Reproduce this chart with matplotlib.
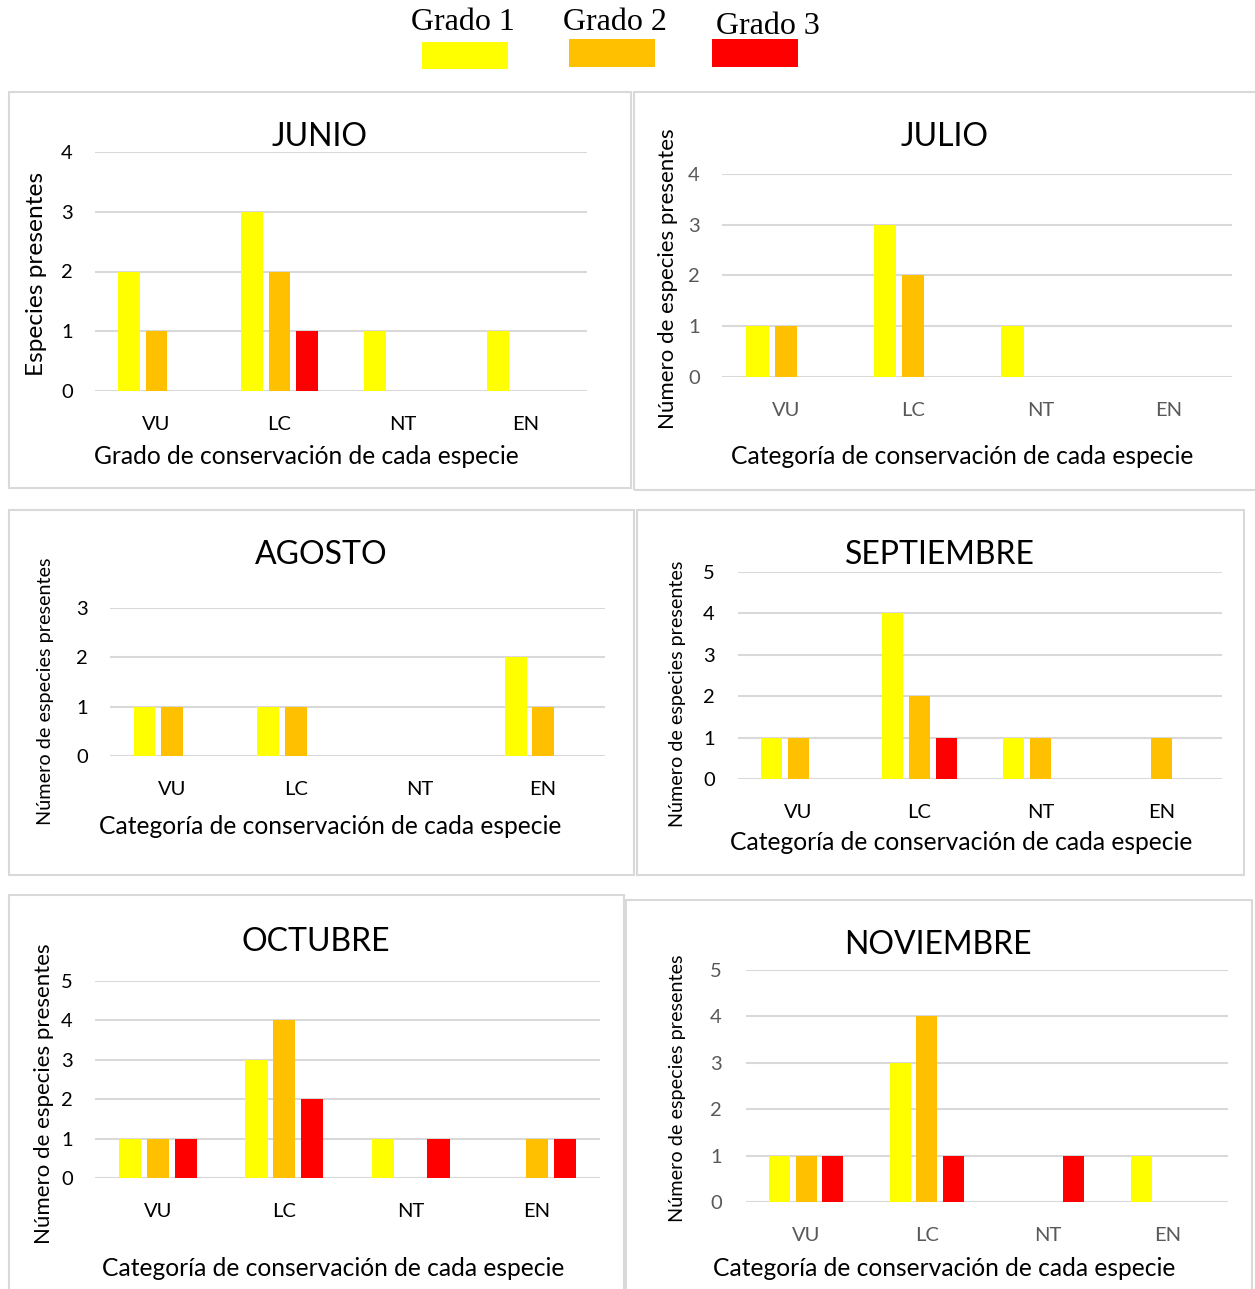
import numpy as np
import matplotlib
matplotlib.use("Agg")
import matplotlib.pyplot as plt
from matplotlib.patches import Rectangle

# conservation categories and colours for each grade
categorias = ["VU", "LC", "NT", "EN"]
grados = ["Grado 1", "Grado 2", "Grado 3"]
colores = ["#FFFF00", "#FFC000", "#FF0000"]

# species counts per month, one list per grade
junio_g1 = [2, 3, 1, 1]
junio_g2 = [1, 2, 0, 0]
junio_g3 = [0, 1, 0, 0]

julio_g1 = [1, 3, 1, 0]
julio_g2 = [1, 2, 0, 0]
julio_g3 = [0, 0, 0, 0]

agosto_g1 = [1, 1, 0, 2]
agosto_g2 = [1, 1, 0, 1]
agosto_g3 = [0, 0, 0, 0]

septiembre_g1 = [1, 4, 1, 0]
septiembre_g2 = [1, 2, 1, 1]
septiembre_g3 = [0, 1, 0, 0]

octubre_g1 = [1, 3, 1, 0]
octubre_g2 = [1, 4, 0, 1]
octubre_g3 = [1, 2, 1, 1]

noviembre_g1 = [1, 3, 0, 1]
noviembre_g2 = [1, 4, 0, 0]
noviembre_g3 = [1, 1, 1, 0]

W, H = 1255, 1289
DPI = 100
FONT = "Lato"

fig = plt.figure(figsize=(W / DPI, H / DPI), dpi=DPI)


def fx(x):
    return x / W


def fy(y):
    return 1 - y / H


def pt(px):
    return px * 72 / DPI


# each panel: title, data, ymax, frame box, plot area, text positions and styles
paneles = [
    dict(titulo="JUNIO", datos=(junio_g1, junio_g2, junio_g3), ymax=4,
         caja=(9, 92, 631, 488), area=(95, 152, 587, 391),
         tit=(320, 137), xl=(306, 457), yl=(37, 274),
         xlabel="Grado de conservación de cada especie", ylabel="Especies presentes",
         ylsize=17.6, tickcol="#000000", tpad=22),
    dict(titulo="JULIO", datos=(julio_g1, julio_g2, julio_g3), ymax=4,
         caja=(634, 92, 1262, 490), area=(722, 174, 1232, 377),
         tit=(945, 137), xl=(962, 457), yl=(668, 279),
         xlabel="Categoría de conservación de cada especie",
         ylabel="Número de especies presentes",
         ylsize=16, tickcol="#595959", tpad=22),
    dict(titulo="AGOSTO", datos=(agosto_g1, agosto_g2, agosto_g3), ymax=3,
         caja=(9, 510, 634, 875), area=(110, 608, 605, 756),
         tit=(321, 555), xl=(330, 827), yl=(45, 691),
         xlabel="Categoría de conservación de cada especie",
         ylabel="Número de especies presentes",
         ylsize=14.3, tickcol="#000000", tpad=22),
    dict(titulo="SEPTIEMBRE", datos=(septiembre_g1, septiembre_g2, septiembre_g3), ymax=5,
         caja=(637, 510, 1244, 875), area=(738, 572, 1222, 779),
         tit=(940, 555), xl=(961, 842), yl=(678, 694),
         xlabel="Categoría de conservación de cada especie",
         ylabel="Número de especies presentes",
         ylsize=14.2, tickcol="#000000", tpad=23),
    dict(titulo="OCTUBRE", datos=(octubre_g1, octubre_g2, octubre_g3), ymax=5,
         caja=(9, 895, 624, 1295), area=(95, 981, 600, 1178),
         tit=(316, 942), xl=(333, 1268), yl=(44, 1094),
         xlabel="Categoría de conservación de cada especie",
         ylabel="Número de especies presentes",
         ylsize=16, tickcol="#000000", tpad=22),
    dict(titulo="NOVIEMBRE", datos=(noviembre_g1, noviembre_g2, noviembre_g3), ymax=5,
         caja=(626, 900, 1252, 1295), area=(746, 970, 1228, 1202),
         tit=(938, 945), xl=(944, 1269), yl=(678, 1088),
         xlabel="Categoría de conservación de cada especie",
         ylabel="Número de especies presentes",
         ylsize=14.3, tickcol="#595959", tpad=24),
]

x = np.arange(len(categorias))
paso = 0.221
ancho = 0.176

for p in paneles:
    x0, y0, x1, y1 = p["caja"]
    fig.patches.append(Rectangle((fx(x0), fy(y1)), fx(x1 - x0), (y1 - y0) / H,
                                 transform=fig.transFigure, fill=False,
                                 edgecolor="#D9D9D9", linewidth=1.5, zorder=0))

    ax0, ay0, ax1, ay1 = p["area"]
    ax = fig.add_axes([fx(ax0), fy(ay1), fx(ax1 - ax0), (ay1 - ay0) / H])
    for i, serie in enumerate(p["datos"]):
        ax.bar(x + (i - 1) * paso, serie, width=ancho, color=colores[i], zorder=3)

    ax.set_xlim(-0.5, len(categorias) - 0.5)
    ax.set_ylim(0, p["ymax"])
    ax.set_yticks(range(p["ymax"] + 1))
    ax.set_xticks(x)
    ax.set_xticklabels(categorias)
    ax.grid(axis="y", color="#D9D9D9", linewidth=1.5, zorder=0)
    ax.set_axisbelow(True)
    for s in ax.spines.values():
        s.set_visible(False)
    ax.tick_params(axis="both", length=0, labelsize=14.5, labelcolor=p["tickcol"])
    ax.tick_params(axis="y", pad=pt(p["tpad"]))
    ax.tick_params(axis="x", pad=pt(25))
    for lab in ax.get_xticklabels() + ax.get_yticklabels():
        lab.set_fontfamily(FONT)

    fig.text(fx(p["tit"][0]), fy(p["tit"][1]), p["titulo"], fontsize=23,
             fontfamily=FONT, ha="center", va="center")
    fig.text(fx(p["xl"][0]), fy(p["xl"][1]), p["xlabel"], fontsize=17.7,
             fontfamily=FONT, ha="center", va="center")
    fig.text(fx(p["yl"][0]), fy(p["yl"][1]), p["ylabel"], fontsize=p["ylsize"],
             fontfamily=FONT, ha="center", va="center", rotation=90)

# legend on top
leyenda_txt = [(463, 22), (615, 22), (768, 26)]
leyenda_box = [(422, 42, 508, 69), (569, 39, 655, 67), (712, 39, 798, 67)]
for nombre, color, (tx, ty), (bx0, by0, bx1, by1) in zip(grados, colores, leyenda_txt, leyenda_box):
    fig.text(fx(tx), fy(ty), nombre, fontsize=23, fontfamily="Liberation Serif",
             ha="center", va="center")
    fig.patches.append(Rectangle((fx(bx0), fy(by1)), fx(bx1 - bx0), (by1 - by0) / H,
                                 transform=fig.transFigure, color=color, linewidth=0))

fig.savefig("out.png", dpi=DPI)
